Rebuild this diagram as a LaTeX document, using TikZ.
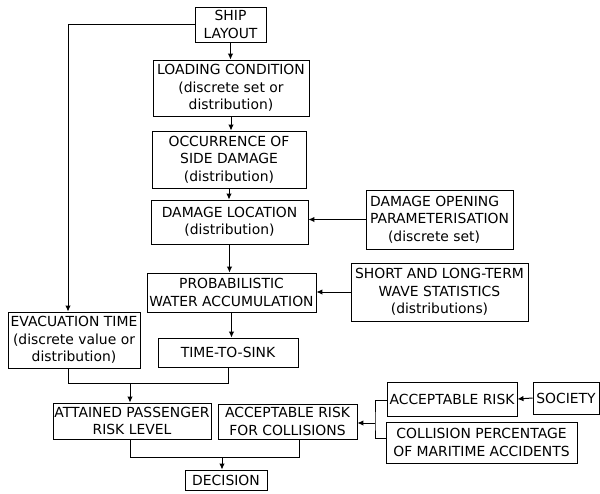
\documentclass[tikz,border=0pt]{standalone}
\usepackage{fontspec}
\setmainfont{DejaVu Sans}
\usepackage{tikz}
\usetikzlibrary{arrows.meta}

\begin{document}
\begin{tikzpicture}[x=1pt, y=-1pt,
    box/.style={draw, line width=0.9pt, rectangle, align=center, inner sep=0pt,
                font=\fontsize{13.9}{17.5}\selectfont},
    arr/.style={-{Latex[length=6pt,width=5.5pt]}},
    every path/.style={line width=1pt}]
            \useasboundingbox (0,0) rectangle (600,493);

            % main column
            \node[box, minimum width=71pt, minimum height=35pt] (ship) at (230.5,24.5) {SHIP\\LAYOUT};
            \node[box, minimum width=156pt, minimum height=56pt] (load) at (231,88) {LOADING CONDITION\\(discrete set or\\distribution)};
            \node[box, minimum width=154pt, minimum height=57pt] (occ) at (229,159.5) {OCCURRENCE OF\\SIDE DAMAGE\\ (distribution)};
            \node[box, minimum width=157pt, minimum height=44pt] (loc) at (229.5,222) {DAMAGE LOCATION\\(distribution)};
            \node[box, minimum width=169pt, minimum height=39pt] (prob) at (231.5,292.5) {PROBABILISTIC\\WATER ACCUMULATION};
            \node[box, minimum width=140pt, minimum height=29pt] (sink) at (228,352.5) {TIME-TO-SINK};

            % inputs on the right
            \node[box, align=left, minimum width=147pt, minimum height=59pt] (open) at (439.5,219.5) {DAMAGE OPENING\\PARAMETERISATION\\\hspace{18pt}(discrete set)};
            \node[box, minimum width=177pt, minimum height=58pt] (wave) at (439.5,292) {SHORT AND LONG-TERM\\WAVE STATISTICS\\(distributions)};

            \node[box, minimum width=132pt, minimum height=56pt] (evac) at (74,340) {EVACUATION TIME\\(discrete value or\\distribution)};

            % risk level and decision
            \node[box, minimum width=158pt, minimum height=36pt] (att) at (132,421) {ATTAINED PASSENGER\\RISK LEVEL};
            \node[box, minimum width=139pt, minimum height=35pt] (accol) at (287.5,421.5) {ACCEPTABLE RISK\\FOR COLLISIONS};
            \node[box, minimum width=82pt, minimum height=20pt] (dec) at (226,480) {DECISION};
            \node[box, minimum width=130pt, minimum height=34pt] (accrisk) at (452,399) {ACCEPTABLE RISK};
            \node[box, minimum width=66pt, minimum height=32pt] (soc) at (566,398) {SOCIETY};
            \node[box, minimum width=191pt, minimum height=41pt] (coll) at (481.5,442.5) {COLLISION PERCENTAGE\\OF MARITIME ACCIDENTS};

            \coordinate (j1) at (130,383);
            \coordinate (j2) at (222,457);
            \coordinate (j3) at (375,423);

            \draw[arr] (ship.south) -- (ship.south |- load.north);
            \draw[arr] (load.south) -- (load.south |- occ.north);
            \draw[arr] (occ.south) -- (occ.south |- loc.north);
            \draw[arr] (loc.south) -- (loc.south |- prob.north);
            \draw[arr] (prob.south) -- (prob.south |- sink.north);
            \draw[arr] (open.west) -- (open.west -| loc.east);
            \draw[arr] (wave.west) -- (wave.west -| prob.east);

            \draw[arr] (ship.west) -| ([xshift=-6pt]evac.north);
            \draw ([xshift=-6pt]evac.south) |- (j1);
            \draw (sink.south) |- (j1);
            \draw[arr] (j1) -- (j1 |- att.north);

            \draw ([xshift=-2pt]att.south) |- (j2);
            \draw ([xshift=11.5pt]accol.south) |- (j2);
            \draw[arr] (j2) -- (j2 |- dec.north);

            \draw[arr] (soc.west) -- (accrisk.east);
            \draw ([yshift=-1pt]accrisk.west) -| (j3) |- ([yshift=4.5pt]coll.west);
            \draw[arr] (j3) -- (j3 -| accol.east);

        \end{tikzpicture}
\end{document}
